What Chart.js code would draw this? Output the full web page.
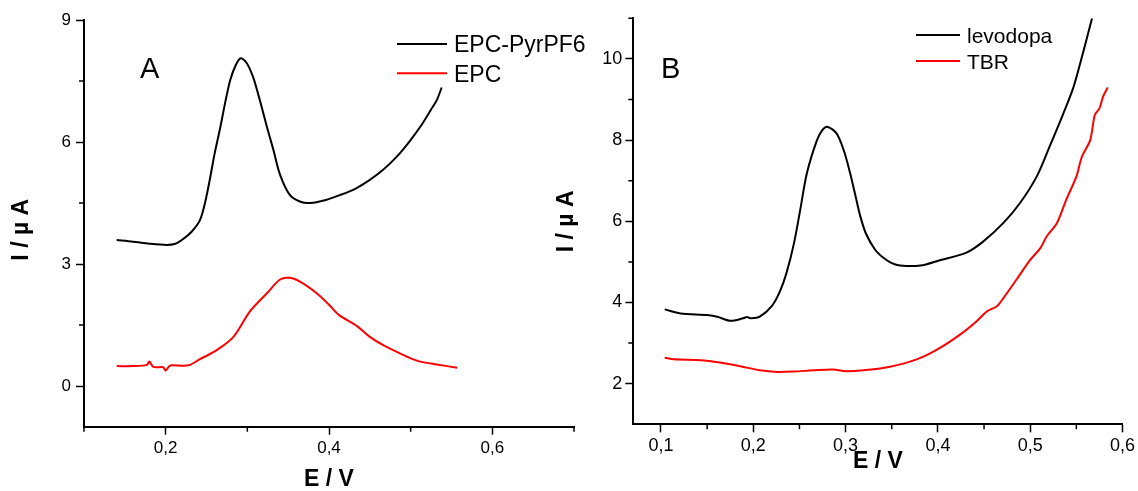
<!DOCTYPE html>
<html>
<head>
<meta charset="utf-8">
<script src="https://cdn.jsdelivr.net/npm/chart.js@4/dist/chart.umd.min.js"></script>
<style>
  html, body { margin: 0; padding: 0; background: #fff; }
  body { width: 1138px; height: 491px; position: relative; overflow: hidden; }
  canvas { position: absolute; top: 0; }
  #chartA { left: 0; }
  #chartB { left: 545px; }
</style>
</head>
<body>
<canvas id="chartA" width="600" height="491"></canvas>
<canvas id="chartB" width="593" height="491"></canvas>
<script>
// panel A: EPC-PyrPF6 vs EPC
const aPyrE = [0.140, 0.160, 0.180, 0.201, 0.212, 0.221, 0.232, 0.242, 0.248, 0.254, 0.260, 0.267, 0.273, 0.279, 0.286, 0.292, 0.299, 0.307, 0.315, 0.324, 0.332, 0.340, 0.352, 0.365, 0.377, 0.395, 0.414, 0.432, 0.450, 0.467, 0.483, 0.498, 0.512, 0.525, 0.532, 0.538];
const aPyrI = [3.59, 3.55, 3.50, 3.47, 3.50, 3.61, 3.80, 4.08, 4.49, 5.07, 5.72, 6.37, 6.98, 7.52, 7.90, 8.06, 7.95, 7.60, 7.05, 6.37, 5.80, 5.20, 4.70, 4.53, 4.50, 4.57, 4.70, 4.85, 5.07, 5.33, 5.64, 6.00, 6.38, 6.80, 7.03, 7.34];
const aEpcE = [0.140, 0.160, 0.177, 0.180, 0.185, 0.197, 0.200, 0.204, 0.207, 0.228, 0.242, 0.263, 0.283, 0.303, 0.324, 0.340, 0.352, 0.365, 0.385, 0.400, 0.412, 0.434, 0.450, 0.467, 0.483, 0.498, 0.512, 0.532, 0.557];
const aEpcI = [0.49, 0.49, 0.52, 0.60, 0.47, 0.46, 0.38, 0.48, 0.51, 0.51, 0.66, 0.89, 1.21, 1.83, 2.28, 2.62, 2.66, 2.56, 2.28, 2.00, 1.75, 1.48, 1.21, 1.00, 0.84, 0.70, 0.60, 0.53, 0.45];

// panel B: levodopa vs TBR
const bLevE = [0.104, 0.121, 0.150, 0.161, 0.175, 0.189, 0.193, 0.198, 0.207, 0.220, 0.229, 0.236, 0.244, 0.251, 0.258, 0.269, 0.275, 0.280, 0.290, 0.298, 0.305, 0.311, 0.316, 0.322, 0.332, 0.341, 0.350, 0.359, 0.381, 0.402, 0.431, 0.449, 0.471, 0.489, 0.507, 0.521, 0.536, 0.547, 0.557, 0.567];
const bLevI = [3.83, 3.73, 3.69, 3.65, 3.55, 3.61, 3.64, 3.61, 3.65, 3.91, 4.28, 4.73, 5.45, 6.30, 7.18, 8.00, 8.25, 8.33, 8.17, 7.75, 7.18, 6.60, 6.12, 5.70, 5.30, 5.10, 4.97, 4.91, 4.91, 5.04, 5.23, 5.50, 5.96, 6.45, 7.10, 7.84, 8.66, 9.31, 10.13, 11.0];
const bTbrE = [0.104, 0.114, 0.143, 0.164, 0.186, 0.207, 0.226, 0.244, 0.265, 0.287, 0.298, 0.319, 0.348, 0.377, 0.399, 0.424, 0.442, 0.453, 0.464, 0.471, 0.485, 0.500, 0.511, 0.518, 0.529, 0.539, 0.550, 0.556, 0.565, 0.570, 0.575, 0.579, 0.584];
const bTbrI = [2.64, 2.60, 2.58, 2.52, 2.43, 2.33, 2.29, 2.30, 2.33, 2.35, 2.31, 2.33, 2.42, 2.60, 2.84, 3.21, 3.54, 3.78, 3.91, 4.11, 4.56, 5.05, 5.34, 5.63, 5.96, 6.53, 7.10, 7.59, 8.00, 8.62, 8.78, 9.07, 9.30];

// ticks
const aXTicks = [0.2, 0.4, 0.6];
const aXMinor = [0.1, 0.3, 0.5, 0.7];
const aYTicks = [0, 3, 6, 9];
const aYMinor = [1.5, 4.5, 7.5];
const bXTicks = [0.1, 0.2, 0.3, 0.4, 0.5, 0.6];
const bXMinor = [0.15, 0.25, 0.35, 0.45, 0.55];
const bYTicks = [2, 4, 6, 8, 10];
const bYMinor = [3, 5, 7, 9, 11];

const FONT = "'Liberation Sans', Arial, sans-serif";

const toPts = (xs, ys) => xs.map((x, i) => ({ x: x, y: ys[i] }));
const comma = v => v.toFixed(1).replace('.', ',');

// short minor ticks drawn through the chart's scales
const minorTicks = {
  id: 'minorTicks',
  afterDraw(chart, args, opts) {
    const ctx = chart.ctx;
    const xs = chart.scales.x, ys = chart.scales.y;
    ctx.save();
    ctx.strokeStyle = '#000';
    ctx.lineWidth = 1.5;
    ctx.beginPath();
    (opts.x || []).forEach(v => {
      const px = xs.getPixelForValue(v);
      ctx.moveTo(px, xs.top); ctx.lineTo(px, xs.top + 5);
    });
    (opts.y || []).forEach(v => {
      const py = ys.getPixelForValue(v);
      ctx.moveTo(ys.right - 5, py); ctx.lineTo(ys.right, py);
    });
    ctx.stroke();
    ctx.restore();
  }
};

// panel letter + inline legend
const panelText = {
  id: 'panelText',
  afterDraw(chart, args, opts) {
    const ctx = chart.ctx;
    ctx.save();
    ctx.fillStyle = '#000';
    ctx.textBaseline = 'alphabetic';
    ctx.font = '29px ' + FONT;
    ctx.fillText(opts.letter, opts.letterX, opts.letterY);
    ctx.font = opts.legendSize + 'px ' + FONT;
    chart.data.datasets.forEach((ds, i) => {
      const ly = opts.legendY + i * opts.legendGap;
      ctx.strokeStyle = ds.borderColor;
      ctx.lineWidth = 2;
      ctx.beginPath();
      ctx.moveTo(opts.legendX, ly);
      ctx.lineTo(opts.legendX + opts.legendLine, ly);
      ctx.stroke();
      ctx.fillText(ds.label, opts.legendX + opts.legendLine + 7, ly + opts.legendSize * 0.36);
    });
    ctx.restore();
  }
};

function makeChart(id, sets, cfg) {
  const tickFont = { family: FONT, size: cfg.tickSize };
  const gridBase = { drawOnChartArea: false, drawTicks: true, tickLength: 8, tickColor: '#000', tickWidth: 1.5 };
  const borderBase = { display: true, color: '#000', width: 2 };
  return new Chart(document.getElementById(id), {
    type: 'scatter',
    data: {
      datasets: sets.map(s => ({
        label: s.label,
        data: toPts(s.xs, s.ys),
        showLine: true,
        borderColor: s.color,
        borderWidth: 2,
        pointRadius: 0,
        tension: 0.3
      }))
    },
    options: {
      responsive: false,
      animation: false,
      events: [],
      layout: { padding: cfg.padding },
      plugins: {
        legend: { display: false },
        tooltip: { enabled: false },
        minorTicks: { x: cfg.xMinor, y: cfg.yMinor },
        panelText: cfg.text
      },
      scales: {
        x: {
          type: 'linear',
          min: cfg.xMin, max: cfg.xMax,
          grid: gridBase,
          border: borderBase,
          afterBuildTicks: s => { s.ticks = cfg.xTicks.map(v => ({ value: v })); },
          afterFit: s => { s.height = cfg.xHeight; },
          ticks: { color: '#000', font: tickFont, padding: 3, maxRotation: 0, callback: v => comma(v) },
          title: {
            display: true, text: 'E / V', color: '#000',
            font: { family: FONT, size: 23, weight: 'bold', lineHeight: 1 },
            padding: { top: 0, bottom: cfg.xTitlePad }
          }
        },
        y: {
          type: 'linear',
          min: cfg.yMin, max: cfg.yMax,
          grid: gridBase,
          border: borderBase,
          afterBuildTicks: s => { s.ticks = cfg.yTicks.map(v => ({ value: v })); },
          afterFit: s => { s.width = cfg.yWidth; },
          ticks: { color: '#000', font: tickFont, padding: cfg.yTickPad, callback: v => String(v) },
          title: {
            display: true, text: cfg.yTitle, color: '#000',
            font: { family: FONT, size: 23, weight: 'bold', lineHeight: 1 },
            padding: { top: 10.5, bottom: 0 }
          }
        }
      }
    },
    plugins: [minorTicks, panelText]
  });
}

makeChart('chartA', [
  { label: 'EPC-PyrPF6', xs: aPyrE, ys: aPyrI, color: '#000000' },
  { label: 'EPC', xs: aEpcE, ys: aEpcI, color: '#ff0000' }
], {
  padding: { top: 20, right: 26, left: 0, bottom: 0 },
  xMin: 0.1, xMax: 0.7, yMin: -1, yMax: 9,
  xTicks: aXTicks, xMinor: aXMinor, yTicks: aYTicks, yMinor: aYMinor,
  xHeight: 64.3, yWidth: 84, xTitlePad: 0, tickSize: 17, yTickPad: 5,
  yTitle: 'I / \u00b5 A\u00a0\u00a0',
  text: { letter: 'A', letterX: 140, letterY: 77.5, legendX: 397, legendY: 44, legendGap: 29.3, legendLine: 50, legendSize: 23 }
});

makeChart('chartB', [
  { label: 'levodopa', xs: bLevE, ys: bLevI, color: '#000000' },
  { label: 'TBR', xs: bTbrE, ys: bTbrI, color: '#ff0000' }
], {
  padding: { top: 18.3, right: 15.3, left: 0, bottom: 0 },
  xMin: 0.07, xMax: 0.6, yMin: 1, yMax: 11,
  xTicks: bXTicks, xMinor: bXMinor, yTicks: bYTicks, yMinor: bYMinor,
  xHeight: 66.7, yWidth: 88.3, xTitlePad: 18, tickSize: 18, yTickPad: 3,
  yTitle: 'I / \u00b5 A',
  text: { letter: 'B', letterX: 116, letterY: 77.5, legendX: 371, legendY: 35, legendGap: 26, legendLine: 44, legendSize: 21 }
});
</script>
</body>
</html>
